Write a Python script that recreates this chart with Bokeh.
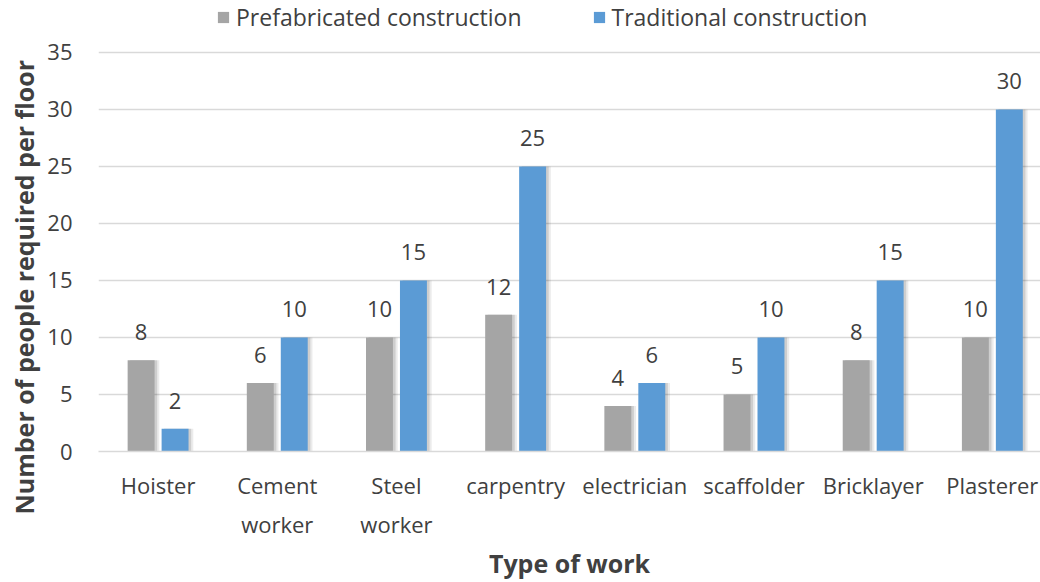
from bokeh.plotting import figure
from bokeh.core.properties import value
from bokeh.models import (ColumnDataSource, FixedTicker, LinearAxis, LabelSet, Title,
                          Legend, LegendItem, Range1d)
from bokeh.transform import dodge
from bokeh.embed import file_html
from bokeh.resources import INLINE

categories = ["Hoister", "Cement worker", "Steel worker", "carpentry", "electrician",
              "scaffolder", "Bricklayer", "Plasterer"]
label_line1 = ["Hoister", "Cement", "Steel", "carpentry", "electrician",
               "scaffolder", "Bricklayer", "Plasterer"]
label_line2 = ["", "worker", "worker", "", "", "", "", ""]
prefabricated = [8, 6, 10, 12, 4, 5, 8, 10]
traditional = [2, 10, 15, 25, 6, 10, 15, 30]
y_ticks = [0, 5, 10, 15, 20, 25, 30, 35]

FONT = "Open Sans"
TXT = "#404040"
GRAY = "#A5A5A5"
BLUE = "#5B9BD5"

idx = list(range(len(categories)))
src = ColumnDataSource(dict(
    x=idx, pre=prefabricated, tra=traditional,
    pre_s=[str(v) for v in prefabricated], tra_s=[str(v) for v in traditional],
))

# frame reaches the top of the canvas so the legend can sit above the 35 gridline
p = figure(width=1040, height=582, output_backend="svg", toolbar_location=None,
           x_range=Range1d(-0.5, 7.404), y_range=Range1d(0, 39.55),
           min_border_left=97, min_border_right=0, min_border_top=0, min_border_bottom=0,
           outline_line_color=None, background_fill_color="white", border_fill_color="white")

off = 0.1425
bw = 0.226
# soft shadows
for dx, a, w in [(0.03, 0.08, bw + 0.02), (0.022, 0.12, bw)]:
    p.vbar(x=dodge("x", -off + dx, range=p.x_range), top="pre", bottom=0, width=w,
           source=src, fill_color="black", fill_alpha=a, line_color=None)
    p.vbar(x=dodge("x", off + dx, range=p.x_range), top="tra", bottom=0, width=w,
           source=src, fill_color="black", fill_alpha=a, line_color=None)

r_pre = p.vbar(x=dodge("x", -off, range=p.x_range), top="pre", bottom=0, width=bw,
               source=src, fill_color=GRAY, line_color=None)
r_tra = p.vbar(x=dodge("x", off, range=p.x_range), top="tra", bottom=0, width=bw,
               source=src, fill_color=BLUE, line_color=None)

for col, lab, d in [("pre", "pre_s", -off), ("tra", "tra_s", off)]:
    ls = LabelSet(x=dodge("x", d, range=p.x_range), y=col, text=lab, source=src,
                  text_align="center", text_baseline="bottom", y_offset=20,
                  text_font=value(FONT), text_font_size=value("22px"),
                  text_color=value(TXT))
    p.add_layout(ls)

# y axis
p.yaxis.ticker = FixedTicker(ticks=y_ticks)
p.yaxis.axis_line_color = None
p.yaxis.major_tick_line_color = None
p.yaxis.minor_tick_line_color = None
p.yaxis.major_label_standoff = 20
p.yaxis.major_label_text_font = FONT
p.yaxis.major_label_text_font_size = "22px"
p.yaxis.major_label_text_color = TXT
p.ygrid.grid_line_color = "#D9D9D9"
p.ygrid.grid_line_width = 1.5
p.xgrid.grid_line_color = None

# x axis: two stacked axes for two-line labels
p.xaxis.ticker = FixedTicker(ticks=idx)
p.xaxis.major_label_overrides = {i: t for i, t in enumerate(label_line1)}
p.xaxis.axis_line_color = "#D9D9D9"
p.xaxis.axis_line_width = 1.5
p.xaxis.major_tick_line_color = None
p.xaxis.minor_tick_line_color = None
p.xaxis.major_label_standoff = 12
p.xaxis.major_label_text_font = FONT
p.xaxis.major_label_text_font_size = "22px"
p.xaxis.major_label_text_color = TXT

ax2 = LinearAxis(ticker=FixedTicker(ticks=idx),
                 major_label_overrides={i: t for i, t in enumerate(label_line2)},
                 axis_line_color=None, major_tick_line_color=None, minor_tick_line_color=None,
                 major_label_standoff=0, major_label_text_font=FONT,
                 major_label_text_font_size="22px", major_label_text_color=TXT,
                 axis_label="Type of work", axis_label_standoff=4,
                 axis_label_text_font=FONT, axis_label_text_font_size="25px",
                 axis_label_text_font_style="bold", axis_label_text_color=TXT)
p.add_layout(ax2, "below")

ytitle = Title(text="Number of people required per floor", align="left", offset=-63,
               text_font=FONT, text_font_size="25px", text_font_style="bold",
               text_color=TXT, standoff=8)
p.add_layout(ytitle, "left")

legend = Legend(items=[LegendItem(label="Prefabricated construction", renderers=[r_pre]),
                       LegendItem(label="Traditional construction", renderers=[r_tra])],
                orientation="horizontal", location=(118, 418), spacing=70,
                label_standoff=6, glyph_width=14, glyph_height=14, padding=0, margin=0,
                border_line_color=None, background_fill_alpha=0,
                label_text_font=FONT, label_text_font_size="23px", label_text_color=TXT)
p.add_layout(legend)

open("out.html", "w").write(file_html(p, INLINE))
